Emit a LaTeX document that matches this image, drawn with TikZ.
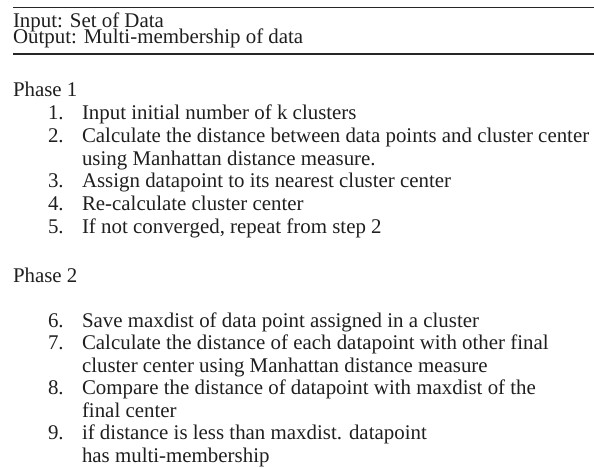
\documentclass[tikz,border=0pt]{standalone}
\usepackage{fontspec}
\setmainfont{Liberation Serif}
\begin{document}
\begin{tikzpicture}[x=1pt,y=-1pt,
  txt/.style={anchor=base west,inner sep=0pt,outer sep=0pt,font=\fontsize{20.9}{25}\selectfont,text=black!88},
  rulel/.style={line width=1.4pt,draw=black!85}]
\useasboundingbox (0,0) rectangle (594,468);
% header rules
\coordinate (r1a) at (13,7.5);
\coordinate (r1b) at (594,7.5);
\coordinate (r2a) at (13,54);
\coordinate (r2b) at (594,54);
\draw[rulel] (r1a) -- (r1b);
\draw[rulel] (r2a) -- (r2b);
\node[txt] (inp) at (13,28) {Input: Set of Data};
\node[txt] (outp) at (13,44) {Output: Multi-membership of data};
% phase 1
\node[txt] (ph1) at (13,97) {Phase 1};
\node[txt] (n1) at (48,120) {1.};
\node[txt] (t1) at (82,120) {Input initial number of k clusters};
\node[txt] (n2) at (48,142.5) {2.};
\node[txt] (t2) at (82,142.5) {Calculate the distance between data points and cluster center};
\node[txt] (t2b) at (82,165) {using Manhattan distance measure.};
\node[txt] (n3) at (48,187.5) {3.};
\node[txt] (t3) at (82,187.5) {Assign datapoint to its nearest cluster center};
\node[txt] (n4) at (48,210) {4.};
\node[txt] (t4) at (82,210) {Re-calculate cluster center};
\node[txt] (n5) at (48,233) {5.};
\node[txt] (t5) at (82,233) {If not converged, repeat from step 2};
% phase 2
\node[txt] (ph2) at (13,282) {Phase 2};
\node[txt] (n6) at (48,327) {6.};
\node[txt] (t6) at (82,327) {Save maxdist of data point assigned in a cluster};
\node[txt] (n7) at (48,349.5) {7.};
\node[txt] (t7) at (82,349.5) {Calculate the distance of each datapoint with other final};
\node[txt] (t7b) at (82,372) {cluster center using Manhattan distance measure};
\node[txt] (n8) at (48,394.5) {8.};
\node[txt] (t8) at (82,394.5) {Compare the distance of datapoint with maxdist of the};
\node[txt] (t8b) at (82,417) {final center};
\node[txt] (n9) at (48,439.5) {9.};
\node[txt] (t9) at (82,439.5) {if distance is less than maxdist. datapoint};
\node[txt] (t9b) at (82,462) {has multi-membership};
\end{tikzpicture}
\end{document}
